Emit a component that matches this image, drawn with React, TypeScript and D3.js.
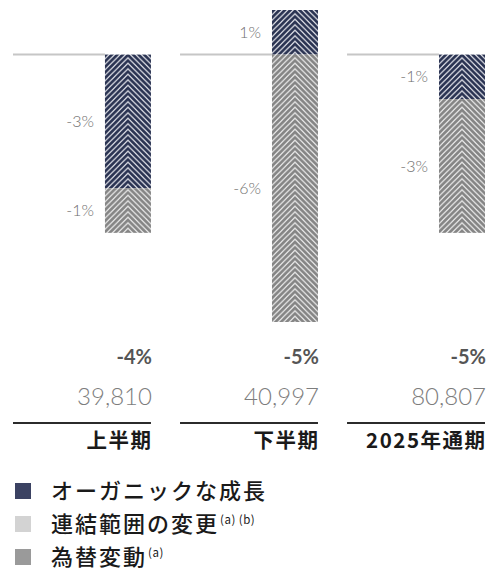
import React from "react";
import * as d3 from "d3";

const categories = ["上半期", "下半期", "2025年通期"];
const organic = [-3, 1, -1];
const fx = [-1, -6, -3];
const organicLabels = ["-3%", "1%", "-1%"];
const fxLabels = ["-1%", "-6%", "-3%"];
const totals = ["-4%", "-5%", "-5%"];
const revenues = ["39,810", "40,997", "80,807"];
const legendLabels = ["オーガニックな成長", "連結範囲の変更", "為替変動"];
const legendSups = ["", "(a) (b)", "(a)"];
const legendColors = ["#3b4262", "#d3d3d3", "#9a9a9a"];

const W = 488;
const H = 577;
const BAR_W = 46;

function chevronPattern(id: string, color: string, bg: string) {
  const w = BAR_W;
  const half = w / 2;
  const period = 5.5;
  const paths: string[] = [];
  for (let k = -Math.ceil(half / period) - 1; k <= 2; k++) {
    const y0 = k * period;
    paths.push(`M${-2},${y0 + half + 2} L${half},${y0} L${w + 2},${y0 + half + 2}`);
  }
  return (
    <pattern id={id} patternUnits="userSpaceOnUse" width={w} height={period}>
      <rect width={w} height={period} fill={bg} />
      {paths.map((d, i) => (
        <path key={i} d={d} fill="none" stroke={color} strokeWidth={2.7} />
      ))}
    </pattern>
  );
}

export default function App() {
  const x = d3
    .scaleBand<string>()
    .domain(categories)
    .range([13, 485])
    .paddingInner(0.174);
  const y = d3.scaleLinear().domain([-6, 1]).range([322, 10]);
  const y0 = y(0);
  const bw = x.bandwidth();

  const labelFont = "Lato, 'Noto Sans', sans-serif";
  const cjk = "'Noto Sans CJK JP', 'Noto Sans', sans-serif";

  return (
    <svg width={W} height={H} style={{ position: "absolute", left: 0, top: 0, background: "#fff" }}>
      {categories.map((c, i) => {
        const px = x(c)!;
        const right = px + bw;
        const bx = right - BAR_W;
        const o = organic[i];
        const f = fx[i];
        const oTop = Math.min(y(o), y0);
        const oBot = Math.max(y(o), y0);
        const fStart = o < 0 ? o : 0;
        const fEnd = fStart + f;
        const fTop = y(fStart);
        const fBot = y(fEnd);
        const darkId = `pd${i}`;
        const grayId = `pg${i}`;
        return (
          <g key={c}>
            <svg x={bx} y={0} width={BAR_W} height={H} overflow="visible">
              <defs>
                {chevronPattern(darkId, "#2a3352", "#e6e7ed")}
                {chevronPattern(grayId, "#858585", "#ededed")}
              </defs>
              <rect x={0} y={oTop} width={BAR_W} height={oBot - oTop} fill={`url(#${darkId})`} />
              <rect x={0} y={fTop} width={BAR_W} height={fBot - fTop} fill={`url(#${grayId})`} />
            </svg>
            <line x1={px} x2={bx} y1={y0} y2={y0} stroke="#c6c6c6" strokeWidth={2} />
            <text
              x={bx - 11}
              y={(oTop + oBot) / 2}
              dy="0.35em"
              textAnchor="end"
              fontFamily={labelFont}
              fontWeight={300}
              fontSize={16}
              fill="#6f6f6f"
            >
              {organicLabels[i]}
            </text>
            <text
              x={bx - 11}
              y={(fTop + fBot) / 2}
              dy="0.35em"
              textAnchor="end"
              fontFamily={labelFont}
              fontWeight={300}
              fontSize={16}
              fill="#6f6f6f"
            >
              {fxLabels[i]}
            </text>
            <text
              x={right + 1}
              y={364}
              textAnchor="end"
              fontFamily={labelFont}
              fontWeight={700}
              fontSize={20}
              fill="#555"
            >
              {totals[i]}
            </text>
            <text
              x={right + 1}
              y={405}
              textAnchor="end"
              fontFamily={labelFont}
              fontWeight={300}
              fontSize={24}
              fill="#7d7d7d"
            >
              {revenues[i]}
            </text>
            <line x1={px} x2={right} y1={423} y2={423} stroke="#2b2b2b" strokeWidth={2} />
            <text
              x={right + 1.5}
              y={448}
              textAnchor="end"
              fontFamily={cjk}
              fontWeight={700}
              fontSize={20.5}
              letterSpacing={1.5}
              fill="#1a1a1a"
            >
              {c}
            </text>
          </g>
        );
      })}
      {legendLabels.map((label, i) => {
        const ly = 483 + i * 33;
        return (
          <g key={label}>
            <rect x={15} y={ly} width={16} height={16} fill={legendColors[i]} />
            <text
              x={51}
              y={ly + 8}
              dy="0.38em"
              fontFamily={cjk}
              fontWeight={500}
              fontSize={22}
              letterSpacing={2}
              fill="#1a1a1a"
            >
              {label}
              {legendSups[i] && (
                <tspan dx={1} dy={-8} fontSize={11.5} fontWeight={400} letterSpacing={0.5}>
                  {legendSups[i]}
                </tspan>
              )}
            </text>
          </g>
        );
      })}
    </svg>
  );
}
